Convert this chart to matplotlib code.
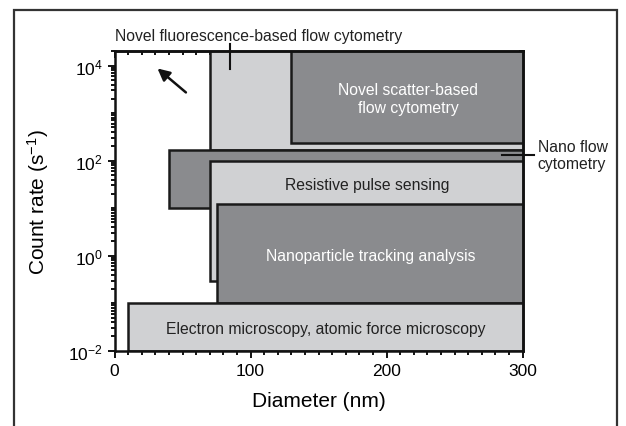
import matplotlib
matplotlib.use("Agg")
import matplotlib.pyplot as plt
from matplotlib.patches import Rectangle
from matplotlib.ticker import FixedLocator, NullFormatter
import numpy as np

plt.rcParams['font.family'] = ['Liberation Sans', 'DejaVu Sans']
plt.rcParams['mathtext.default'] = 'regular'

# detection ranges of each technique (diameter in nm, count rate in 1/s)
methods = ['Novel fluorescence-based flow cytometry', 'Novel scatter-based flow cytometry',
           'Nano flow cytometry', 'Resistive pulse sensing',
           'Nanoparticle tracking analysis', 'Electron microscopy, atomic force microscopy']
d_min = [70, 130, 40, 70, 75, 10]
d_max = [300, 300, 300, 300, 300, 300]
rate_min = [170, 240, 10, 0.3, 0.1, 0.01]
rate_max = [2e4, 2e4, 170, 100, 12.5, 0.1]
dark = [False, True, True, False, True, False]

box_labels = ['', 'Novel scatter-based\nflow cytometry', '', 'Resistive pulse sensing',
              'Nanoparticle tracking analysis', 'Electron microscopy, atomic force microscopy']
label_x = [0, 216, 0, 186, 188, 155]
label_y = [1, 2000, 1, 32, 1.0, 0.029]

light_c = '#d0d1d3'
dark_c = '#8a8b8e'

fig = plt.figure(figsize=(6.26, 4.27), dpi=100)
ax = fig.add_axes([0.183, 0.1763, 0.652, 0.7012])
ax.set_yscale('log')

for i in range(len(methods)):
    ax.bar(d_min[i], rate_max[i] - rate_min[i], width=d_max[i] - d_min[i],
           bottom=rate_min[i], align='edge',
           color=dark_c if dark[i] else light_c, edgecolor='#1a1a1a', linewidth=1.8)
    if box_labels[i]:
        ax.text(label_x[i], label_y[i], box_labels[i], ha='center', va='center',
                fontsize=11.3, color='white' if dark[i] else '#222222', linespacing=1.25)

ax.set_xlim(0, 300)
ax.set_ylim(0.01, 2e4)

# arrow in the empty corner
ax.annotate('', xy=(30, 9500), xytext=(54, 2500),
            arrowprops=dict(arrowstyle='-|>', color='#111111', lw=1.8, mutation_scale=18))

# fluorescence label with marker line
trans = ax.get_xaxis_transform()
ax.plot([85, 85], [0.941, 1.024], color='#111111', lw=1.5, transform=trans, clip_on=False)
ax.text(0.0, 1.054, methods[0], transform=ax.transAxes, fontsize=11.3,
        ha='left', va='center', color='#222222')

# nano flow label with marker line
ax.plot([285, 308], [132, 132], color='#111111', lw=1.5, clip_on=False)
ax.text(311, 132, 'Nano flow\ncytometry', fontsize=11.3, ha='left', va='center',
        color='#222222', linespacing=1.15)

# ticks
x_major = [0, 100, 200, 300]
x_minor = np.arange(0, 301, 10)
major_y = [1e-2, 1, 1e2, 1e4]
minor_y = [k * 10.0 ** n for n in range(-2, 5) for k in range(1, 10)]
ax.xaxis.set_major_locator(FixedLocator(x_major))
ax.xaxis.set_minor_locator(FixedLocator(x_minor))
ax.yaxis.set_major_locator(FixedLocator(major_y))
ax.yaxis.set_minor_locator(FixedLocator(minor_y))
ax.yaxis.set_minor_formatter(NullFormatter())
ax.set_yticklabels(['$10^{-2}$', '$10^{0}$', '$10^{2}$', '$10^{4}$'])

ax.tick_params(axis='both', which='both', width=1.4, color='#111111', labelsize=12.5,
               direction='out', top=False, right=False)
ax.tick_params(axis='both', which='major', length=5)
ax.tick_params(axis='both', which='minor', length=3)

sec_top = ax.secondary_xaxis('top')
sec_top.xaxis.set_major_locator(FixedLocator(x_major))
sec_top.xaxis.set_minor_locator(FixedLocator(x_minor))
sec_top.tick_params(which='both', direction='in', labeltop=False, width=1.4, color='#111111')
sec_top.tick_params(which='major', length=5)
sec_top.tick_params(which='minor', length=3)
sec_top.spines['top'].set_linewidth(1.8)

sec_right = ax.secondary_yaxis('right')
sec_right.yaxis.set_major_locator(FixedLocator(major_y))
sec_right.yaxis.set_minor_locator(FixedLocator(minor_y))
sec_right.tick_params(which='both', direction='in', labelright=False, width=1.4, color='#111111')
sec_right.tick_params(which='major', length=5)
sec_right.tick_params(which='minor', length=3)
sec_right.spines['right'].set_linewidth(1.8)

for s in ax.spines.values():
    s.set_linewidth(1.8)
    s.set_color('#111111')

ax.set_xlabel('Diameter (nm)', fontsize=15, labelpad=10)
ax.set_ylabel('Count rate (s$^{-1}$)', fontsize=15, labelpad=12)

# outer frame (open at the bottom)
fig.patches.append(Rectangle((14 / 626, -0.1), (617 - 14) / 626, 1.1 - 10.7 / 427,
                             transform=fig.transFigure, fill=False,
                             edgecolor='#333333', linewidth=1.6))

fig.savefig('out.png', dpi=100)
